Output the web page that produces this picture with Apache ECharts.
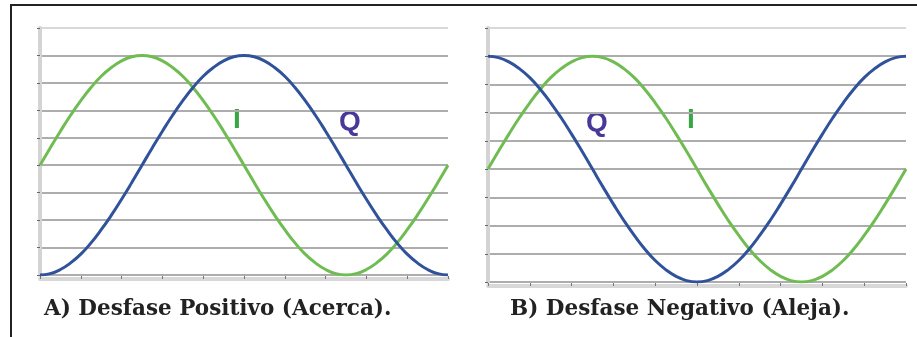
<!DOCTYPE html>
<html>

<head>
    <meta charset="utf-8">
    <title>Desfase I/Q</title>
    <script src="https://cdn.jsdelivr.net/npm/echarts@6/dist/echarts.min.js"></script>
    <style>
        html, body { margin: 0; padding: 0; background: #fff; }
        #chart { width: 917px; height: 337px; }
    </style>
</head>

<body>
    <div id="chart"></div>
    <script>
        // posicion horizontal de cada muestra (0..10, 11 marcas en el eje x)
        var xs = [0, 0.25, 0.5, 0.75, 1, 1.25, 1.5, 1.75, 2, 2.25, 2.5, 2.75, 3, 3.25, 3.5, 3.75, 4, 4.25, 4.5, 4.75,
            5, 5.25, 5.5, 5.75, 6, 6.25, 6.5, 6.75, 7, 7.25, 7.5, 7.75, 8, 8.25, 8.5, 8.75, 9, 9.25, 9.5, 9.75, 10];

        // A) Desfase positivo
        var iA = [0, 0.63, 1.24, 1.82, 2.35, 2.83, 3.24, 3.56, 3.80, 3.95, 4.00, 3.95, 3.80, 3.56, 3.24, 2.83, 2.35, 1.82, 1.24, 0.63,
            0, -0.63, -1.24, -1.82, -2.35, -2.83, -3.24, -3.56, -3.80, -3.95, -4.00, -3.95, -3.80, -3.56, -3.24, -2.83, -2.35, -1.82, -1.24, -0.63, 0];
        var qA = [-4.00, -3.95, -3.80, -3.56, -3.24, -2.83, -2.35, -1.82, -1.24, -0.63, 0, 0.63, 1.24, 1.82, 2.35, 2.83, 3.24, 3.56, 3.80, 3.95,
            4.00, 3.95, 3.80, 3.56, 3.24, 2.83, 2.35, 1.82, 1.24, 0.63, 0, -0.63, -1.24, -1.82, -2.35, -2.83, -3.24, -3.56, -3.80, -3.95, -4.00];

        // B) Desfase negativo
        var iB = [0, 0.63, 1.24, 1.82, 2.35, 2.83, 3.24, 3.56, 3.80, 3.95, 4.00, 3.95, 3.80, 3.56, 3.24, 2.83, 2.35, 1.82, 1.24, 0.63,
            0, -0.63, -1.24, -1.82, -2.35, -2.83, -3.24, -3.56, -3.80, -3.95, -4.00, -3.95, -3.80, -3.56, -3.24, -2.83, -2.35, -1.82, -1.24, -0.63, 0];
        var qB = [4.00, 3.95, 3.80, 3.56, 3.24, 2.83, 2.35, 1.82, 1.24, 0.63, 0, -0.63, -1.24, -1.82, -2.35, -2.83, -3.24, -3.56, -3.80, -3.95,
            -4.00, -3.95, -3.80, -3.56, -3.24, -2.83, -2.35, -1.82, -1.24, -0.63, 0, 0.63, 1.24, 1.82, 2.35, 2.83, 3.24, 3.56, 3.80, 3.95, 4.00];

        var captions = ['A) Desfase Positivo (Acerca).', 'B) Desfase Negativo (Aleja).'];

        var verde = '#6fbd52';
        var azul = '#30529a';

        function pares(ys) {
            return xs.map(function (x, i) { return [x, ys[i]]; });
        }

        var gridLines = ['#adadad', '#adadad', '#adadad', '#adadad', '#adadad', '#adadad', '#adadad', '#adadad', '#adadad', '#d8d8d8'];

        function ejeX(idx) {
            return {
                type: 'value', gridIndex: idx, min: 0, max: 10, interval: 1, offset: 4,
                axisLine: { onZero: false, lineStyle: { color: '#d8d8d8', width: 4 } },
                axisTick: { inside: true, length: 3, lineStyle: { color: '#777', width: 1 } },
                axisLabel: { show: false },
                splitLine: { show: false }
            };
        }

        function ejeY(idx) {
            return {
                type: 'value', gridIndex: idx, min: -4, max: 5, interval: 1,
                axisLine: { show: true, onZero: false, lineStyle: { color: '#d4d4d4', width: 4 } },
                axisTick: { show: true, length: 3, lineStyle: { color: '#666', width: 1 } },
                axisLabel: { show: false },
                splitLine: { show: true, lineStyle: { color: gridLines, width: 2 } }
            };
        }

        function linea(nombre, idx, ys, color) {
            return {
                name: nombre, type: 'line', xAxisIndex: idx, yAxisIndex: idx,
                data: pares(ys), smooth: true, showSymbol: false,
                lineStyle: { color: color, width: 3 }
            };
        }

        var etiqueta = function (txt, x, y, color) {
            return {
                type: 'text', left: x, top: y,
                style: { text: txt, fill: color, fontFamily: 'Liberation Sans', fontSize: 28, fontWeight: 'bold' }
            };
        };

        var tituloEstilo = { fontFamily: 'DejaVu Serif', fontWeight: 'bold', fontSize: 21.5, color: '#222' };

        var chart = echarts.init(document.getElementById('chart'));
        chart.setOption({
            animation: false,
            backgroundColor: '#fff',
            title: [
                { text: captions[0], left: 44, top: 298, padding: 0, textStyle: tituloEstilo },
                { text: captions[1], left: 510, top: 298, padding: 0, textStyle: tituloEstilo }
            ],
            grid: [
                { left: 40, top: 28, width: 408, height: 247 },
                { left: 488, top: 28, width: 418, height: 254 }
            ],
            xAxis: [ejeX(0), ejeX(1)],
            yAxis: [ejeY(0), ejeY(1)],
            series: [
                linea('I', 0, iA, verde),
                linea('Q', 0, qA, azul),
                linea('I', 1, iB, verde),
                linea('Q', 1, qB, azul)
            ],
            graphic: [
                { type: 'polyline', shape: { points: [[917, 5], [11, 5], [11, 337]] }, style: { stroke: '#222', lineWidth: 2, fill: null } },
                etiqueta('I', 233, 106, '#3aa544'),
                etiqueta('Q', 339, 108, '#48389a'),
                etiqueta('Q', 586, 109, '#48389a'),
                etiqueta('I', 687, 106, '#3aa544')
            ]
        });
    </script>
</body>

</html>
